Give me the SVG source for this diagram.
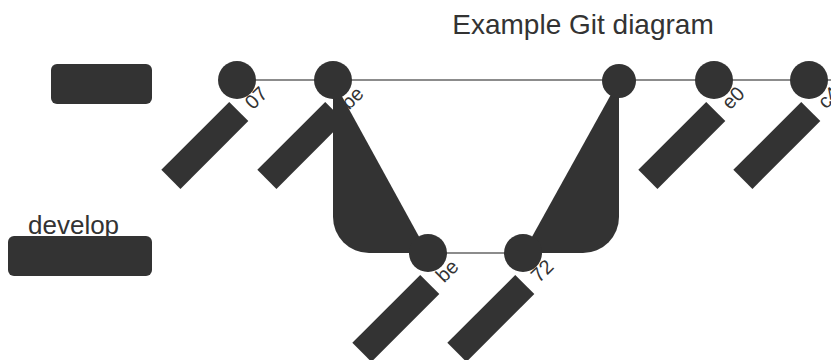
<svg xmlns="http://www.w3.org/2000/svg" width="831" height="360" viewBox="0 0 831 360">
<style>
.title{font-family:"Liberation Sans",Arial,sans-serif;font-size:28px;fill:#333}
.blabel{font-family:"Liberation Sans",Arial,sans-serif;font-size:26px;fill:#333}
.bk{fill:#333}
.line{stroke:#666;stroke-width:1.4;fill:none}
.lbl{font-family:"Liberation Sans",Arial,sans-serif;font-size:20px;fill:#333;text-anchor:end}
</style>
<defs>
<rect id="bar" x="-117" y="10" width="96" height="27"/>
</defs>
<text class="title" x="583" y="34" text-anchor="middle">Example Git diagram</text>
<g id="branch-main"><rect class="bk" x="51" y="64" width="101" height="40" rx="6"/></g>
<g id="branch-develop"><rect class="bk" x="8" y="236" width="144" height="40" rx="6"/><text class="blabel" x="28" y="233.5">develop</text></g>
<g id="connectors">
<line class="line" x1="237" y1="80" x2="831" y2="80"/>
<line class="line" x1="428" y1="253" x2="523" y2="253"/>
<path class="bk" d="M333 80 L333 217 A36 36 0 0 0 369 253 L428 253 Z"/>
<path class="bk" d="M523 253 L583 253 A36 36 0 0 0 619 217 L619 80 Z"/>
</g>
<g id="c1"><circle class="bk" cx="237" cy="80" r="19"/><g transform="translate(237,80) rotate(-45)"><use href="#bar" class="bk"/><text class="lbl" x="12" y="33">07</text></g></g>
<g id="c2"><circle class="bk" cx="333" cy="80" r="19"/><g transform="translate(333,80) rotate(-45)"><use href="#bar" class="bk"/><text class="lbl" x="12" y="33">be</text></g></g>
<g id="c3"><circle class="bk" cx="428" cy="253" r="19"/><g transform="translate(428,253) rotate(-45)"><use href="#bar" class="bk"/><text class="lbl" x="12" y="33">be</text></g></g>
<g id="c4"><circle class="bk" cx="523" cy="253" r="19"/><g transform="translate(523,253) rotate(-45)"><use href="#bar" class="bk"/><text class="lbl" x="12" y="33">72</text></g></g>
<g id="c5"><circle class="bk" cx="619" cy="81" r="17"/></g>
<g id="c6"><circle class="bk" cx="714" cy="80" r="19"/><g transform="translate(714,80) rotate(-45)"><use href="#bar" class="bk"/><text class="lbl" x="12" y="33">e0</text></g></g>
<g id="c7"><circle class="bk" cx="809" cy="80" r="19"/><g transform="translate(809,80) rotate(-45)"><use href="#bar" class="bk"/><text class="lbl" x="12" y="33">c4</text></g></g>
</svg>
